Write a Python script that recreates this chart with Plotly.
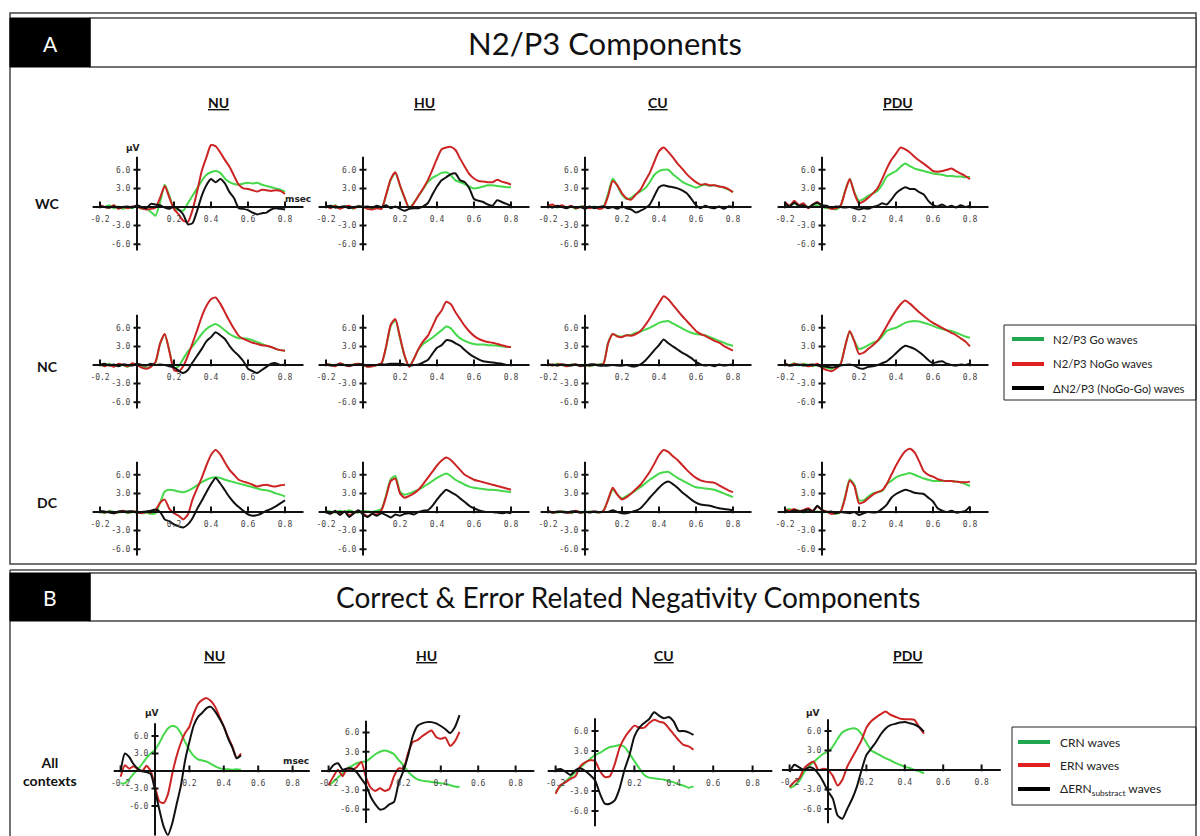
import plotly.graph_objects as go

W, H = 1200, 836

# ---------------- time axes (s) ----------------
T_A = [-0.2, -0.175, -0.15, -0.125, -0.1, -0.075, -0.05, -0.025, 0.0, 0.025, 0.05, 0.075, 0.1,
       0.125, 0.15, 0.175, 0.2, 0.225, 0.25, 0.275, 0.3, 0.325, 0.35, 0.375, 0.4, 0.425, 0.45,
       0.475, 0.5, 0.525, 0.55, 0.575, 0.6, 0.625, 0.65, 0.675, 0.7, 0.725, 0.75, 0.775, 0.8]
T_B = [-0.2, -0.175, -0.15, -0.125, -0.1, -0.075, -0.05, -0.025, 0.0, 0.025, 0.05, 0.075, 0.1,
       0.125, 0.15, 0.175, 0.2, 0.225, 0.25, 0.275, 0.3, 0.325, 0.35, 0.375, 0.4, 0.425, 0.45,
       0.475, 0.5]

groups = ["NU", "HU", "CU", "PDU"]
contexts = ["WC", "NC", "DC"]
x_ticks = [-0.2, 0.2, 0.4, 0.6, 0.8]
x_tick_labels = ["-0.2", "0.2", "0.4", "0.6", "0.8"]
y_ticks = [-6, -3, 3, 6]
y_tick_labels = ["-6.0", "-3.0", "3.0", "6.0"]

# ---------------- A: N2/P3 (µV) ----------------
nu_wc_go = [0.2,0.0,0.3,-0.2,0.1,-0.3,0.0,-0.2,0.2,-0.3,-0.2,-0.8,-1.4,0.8,3.6,1.8,-0.2,-0.5,-0.6,0.6,1.8,3.0,4.2,5.2,5.6,5.8,5.5,4.6,4.0,3.7,3.6,3.8,3.9,3.8,3.9,3.6,3.4,3.2,3.0,2.8,2.5]
nu_wc_nogo = [0.3,0.0,-0.1,0.3,-0.3,0.0,-0.2,0.1,0.0,-0.2,-0.4,-0.3,-0.1,1.5,3.4,1.5,-0.3,-1.2,-2.2,-2.4,-0.5,2.5,5.8,8.0,10.0,9.8,8.8,7.6,6.5,5.0,3.6,3.0,2.9,2.7,2.5,2.8,2.7,2.6,2.7,2.6,2.1]
nu_wc_diff = [0.1,0.0,-0.1,0.1,-0.1,0.0,0.1,-0.1,0.3,0.0,-0.2,0.5,0.4,0.3,-0.1,-0.3,0.1,-0.4,-1.2,-2.8,-2.6,-0.6,1.8,3.5,4.5,4.0,4.5,3.8,2.4,1.4,-0.2,-0.3,-0.5,-0.9,-1.2,-1.0,-0.9,-0.4,-0.2,-0.3,-0.4]

hu_wc_go = [0.2,-0.1,0.3,-0.2,0.1,0.1,-0.3,0.2,0.0,-0.2,-0.3,-0.1,-0.2,1.9,4.4,5.5,3.4,1.4,-0.1,0.7,1.8,2.9,4.0,4.7,5.1,5.5,5.6,5.1,4.3,4.0,3.7,3.3,3.0,3.1,3.3,3.5,3.5,3.4,3.3,3.2,3.2]
hu_wc_nogo = [0.3,-0.2,0.2,-0.3,0.0,0.2,-0.2,0.1,0.0,-0.3,-0.4,-0.2,-0.3,2.0,4.5,5.6,3.5,1.5,-0.2,0.6,1.8,3.0,4.3,6.0,7.8,9.3,9.6,9.7,9.2,7.8,6.5,5.3,4.6,4.2,4.1,4.0,4.0,4.4,4.1,3.9,3.6]
hu_wc_diff = [0.1,0.2,-0.1,0.0,0.1,-0.2,0.0,0.1,0.0,0.1,-0.1,0.2,0.0,0.3,-0.2,0.1,-0.3,-0.6,-0.3,-0.2,-0.2,0.1,0.6,2.0,3.3,4.3,4.8,5.3,5.4,4.3,4.0,3.0,1.3,1.0,0.8,0.4,0.2,1.1,0.8,0.5,0.2]

cu_wc_go = [0.1,0.3,-0.1,0.2,-0.2,0.1,-0.3,0.1,0.0,-0.1,0.1,-0.2,0.0,2.2,4.6,3.4,2.0,1.3,1.5,2.1,2.5,3.0,4.0,5.2,5.8,6.0,6.0,5.3,4.7,4.1,3.7,3.4,3.1,3.4,3.6,3.4,3.5,3.3,3.1,2.8,2.4]
cu_wc_nogo = [0.2,0.4,0.0,0.3,-0.1,0.2,-0.2,0.0,0.1,-0.2,0.0,-0.3,-0.1,1.8,4.2,3.5,2.2,1.4,1.2,2.0,2.8,4.2,5.5,7.3,9.0,9.6,8.9,8.0,7.0,6.2,5.3,4.6,4.0,3.6,3.7,3.5,3.5,3.3,3.2,2.9,2.4]
cu_wc_diff = [0.1,-0.1,0.2,0.0,-0.2,0.1,-0.1,0.0,-0.3,0.1,-0.2,0.0,0.1,-0.2,0.0,-0.3,0.1,-0.2,-0.4,-0.9,-0.6,-0.2,0.4,1.8,3.2,3.5,3.3,3.2,3.0,2.7,2.2,1.3,0.3,-0.2,0.2,-0.1,-0.2,0.1,-0.3,0.1,0.0]

pdu_wc_go = [0.5,0.3,0.6,0.2,0.4,0.0,0.2,0.3,0.0,-0.2,-0.2,-0.4,0.1,2.6,4.5,2.4,1.0,1.3,1.8,2.2,2.6,3.6,4.9,5.4,5.8,6.5,7.0,6.6,6.2,6.0,5.8,5.6,5.4,5.3,5.2,5.0,5.0,4.9,4.9,4.8,4.9]
pdu_wc_nogo = [0.8,0.2,1.0,0.3,0.6,-0.2,0.4,0.8,0.2,0.0,-0.3,-0.2,0.2,2.5,4.5,2.2,0.6,0.9,1.5,2.2,3.0,4.5,6.2,7.6,8.6,9.6,9.3,8.8,8.1,7.5,7.0,6.4,5.8,5.7,5.8,6.0,6.2,5.8,5.4,5.0,4.5]
pdu_wc_diff = [0.6,0.1,0.7,0.2,0.3,-0.1,0.4,0.7,0.3,0.2,-0.1,0.1,0.0,-0.1,0.0,-0.2,-0.4,-0.2,-0.3,0.0,0.2,0.6,0.4,1.2,2.2,2.8,3.2,2.9,2.9,2.4,2.0,1.0,0.3,0.1,0.4,0.0,0.2,-0.1,0.3,0.0,0.2]

nu_nc_go = [0.1,-0.2,0.2,-0.2,0.1,0.0,-0.3,0.2,0.0,-0.3,-0.5,-0.2,0.4,3.4,4.9,2.3,-0.5,-0.2,1.0,2.2,3.0,4.0,5.0,5.8,6.3,6.6,6.2,5.6,5.0,4.6,4.3,4.3,4.2,4.0,3.7,3.4,3.1,2.9,2.6,2.4,2.3]
nu_nc_nogo = [0.2,-0.2,0.1,-0.3,0.2,0.0,-0.2,0.3,0.0,-0.4,-0.6,-0.3,0.5,3.5,5.0,2.2,-0.8,-1.0,-0.2,1.5,3.5,5.6,7.8,9.5,10.6,10.9,9.9,8.5,7.1,5.8,4.7,4.2,3.9,3.6,3.4,3.2,3.1,2.9,2.6,2.4,2.3]
nu_nc_diff = [0.0,0.2,-0.1,0.1,-0.2,0.1,0.0,-0.1,0.2,0.0,-0.1,0.2,0.0,0.1,0.0,-0.2,-0.4,-0.9,-1.3,-0.8,0.4,1.5,2.6,3.8,4.5,5.3,4.8,4.2,3.1,2.2,1.5,0.6,-0.6,-1.0,-1.3,-0.8,-0.3,0.2,0.3,0.0,0.1]

hu_nc_go = [0.1,0.1,-0.2,0.2,0.0,-0.1,0.1,0.1,-0.1,-0.2,-0.2,0.0,0.2,2.9,6.3,7.2,4.3,1.4,-0.2,1.0,2.5,3.4,3.9,4.4,5.0,5.6,6.2,5.9,5.0,4.3,3.9,3.6,3.4,3.3,3.3,3.2,3.2,3.1,3.0,2.9,2.9]
hu_nc_nogo = [0.2,0.0,-0.2,0.3,0.0,-0.2,0.1,0.2,0.0,-0.3,-0.2,0.0,0.3,3.0,6.5,7.4,4.5,1.5,-0.3,1.0,2.6,3.8,4.7,6.2,7.8,8.8,10.2,9.8,8.5,7.4,6.3,5.4,4.7,4.2,3.9,3.7,3.6,3.4,3.2,3.0,2.9]
hu_nc_diff = [0.1,-0.1,0.0,0.1,0.0,-0.1,0.0,0.1,0.1,-0.1,0.0,0.0,0.1,0.1,0.2,0.2,0.2,0.1,-0.1,0.0,0.1,0.4,0.8,1.8,2.8,3.2,4.0,3.9,3.5,3.1,2.4,1.8,1.3,0.9,0.6,0.5,0.4,0.3,0.2,0.0,0.0]

cu_nc_go = [0.1,-0.1,0.2,0.0,-0.2,0.1,0.0,-0.1,0.1,-0.2,0.0,0.1,0.3,3.6,5.0,4.7,4.6,4.8,4.9,5.2,5.4,5.7,6.0,6.4,6.8,7.0,7.1,6.7,6.3,5.9,5.5,5.2,5.0,4.9,4.8,4.5,4.2,3.9,3.6,3.3,3.1]
cu_nc_nogo = [0.2,-0.1,0.1,0.1,-0.2,0.0,0.1,-0.2,0.0,-0.1,0.1,0.0,0.2,3.5,5.0,4.6,4.5,4.8,4.7,5.0,5.5,6.4,7.5,8.8,10.0,11.1,10.6,9.7,8.8,7.9,7.1,6.3,5.5,5.0,4.7,4.3,3.9,3.6,3.1,2.7,2.3]
cu_nc_diff = [0.0,0.1,-0.1,0.1,0.0,-0.1,0.1,-0.1,-0.1,0.1,0.1,-0.1,-0.1,-0.1,0.0,-0.1,-0.1,0.0,-0.2,-0.2,0.1,0.7,1.5,2.4,3.2,4.1,3.5,3.0,2.5,2.0,1.6,1.1,0.5,0.1,-0.1,0.0,-0.2,0.1,-0.1,0.0,0.1]

pdu_nc_go = [0.2,0.0,0.3,-0.1,0.2,0.0,-0.2,0.1,-0.3,-0.4,-0.6,-0.3,0.2,3.0,5.4,3.9,2.6,2.8,3.2,3.6,3.9,4.6,5.5,5.8,6.0,6.4,6.8,7.0,7.1,7.0,6.8,6.6,6.3,6.0,5.8,5.6,5.5,5.2,4.9,4.6,4.4]
pdu_nc_nogo = [0.3,-0.1,0.2,0.0,0.1,-0.2,-0.1,0.2,-0.5,-0.8,-1.0,-0.6,0.1,3.0,5.5,3.8,1.8,2.0,2.6,3.2,3.9,5.0,6.3,7.6,8.8,9.8,10.4,9.9,9.2,8.5,7.9,7.3,6.8,6.4,6.0,5.6,5.2,4.8,4.3,3.8,3.0]
pdu_nc_diff = [0.1,-0.1,0.0,0.1,-0.1,0.0,0.1,-0.1,-0.2,-0.3,-0.4,-0.3,-0.1,0.0,0.1,-0.1,-0.5,-0.6,-0.3,-0.2,0.0,0.3,0.6,1.2,1.9,2.6,3.1,2.9,2.6,2.1,1.5,0.8,0.3,0.5,0.6,0.2,0.0,-0.1,0.1,0.0,0.2]

nu_dc_go = [0.1,-0.2,0.2,0.0,-0.1,0.1,-0.2,0.0,0.1,-0.2,-0.1,-0.3,-0.2,1.5,3.3,3.6,3.5,3.3,3.2,3.4,3.8,4.3,4.8,5.2,5.5,5.6,5.5,5.2,5.0,4.8,4.6,4.4,4.2,4.0,3.8,3.6,3.5,3.3,3.0,2.8,2.5]
nu_dc_nogo = [0.2,-0.1,0.1,-0.2,0.0,0.2,-0.1,0.1,0.0,-0.2,0.0,-0.1,0.3,1.5,2.0,0.5,-0.2,-0.6,-1.2,-0.4,2.0,3.8,5.5,7.5,9.2,10.0,9.3,8.0,6.8,6.0,5.2,4.9,4.7,4.4,4.1,4.3,4.4,4.2,4.1,4.3,4.4]
nu_dc_diff = [0.1,0.1,-0.1,-0.2,0.1,0.1,0.1,0.1,-0.1,0.0,0.1,0.2,0.4,0.0,-1.2,-1.5,-2.0,-2.3,-2.5,-2.0,-1.0,0.5,1.8,3.2,4.5,5.5,4.6,3.5,2.4,1.5,0.8,0.2,-0.4,-0.6,-0.5,-0.2,0.2,0.5,0.9,1.4,1.9]

hu_dc_go = [0.2,0.1,-0.1,0.2,0.0,0.3,0.0,-0.1,0.2,0.1,0.0,0.2,0.5,2.7,5.3,5.8,3.3,2.8,3.0,3.3,3.6,4.0,4.5,5.0,5.5,5.9,6.2,5.8,5.2,4.8,4.4,4.1,3.9,3.8,3.7,3.6,3.6,3.5,3.4,3.3,3.2]
hu_dc_nogo = [0.2,-0.2,0.1,-0.3,0.1,-0.5,-0.2,0.2,-0.2,-0.7,-0.3,-0.4,0.3,2.5,5.0,5.4,3.0,2.3,2.6,3.0,3.6,4.5,5.5,6.5,7.5,8.3,8.8,8.4,7.6,6.8,6.0,5.6,5.2,5.0,4.8,4.6,4.4,4.2,4.0,3.8,3.6]
hu_dc_diff = [0.0,-0.3,0.2,-0.5,0.1,-0.8,-0.2,0.3,-0.4,-0.8,-0.3,-0.6,-0.2,-0.5,-0.9,-0.4,-0.6,-0.3,-0.2,-0.4,0.0,0.2,0.3,1.0,2.0,2.9,3.6,3.2,2.8,2.2,1.6,1.0,0.6,0.3,0.1,0.0,0.0,-0.1,-0.2,-0.1,-0.2]

cu_dc_go = [0.1,0.0,-0.1,0.1,0.0,-0.2,0.1,0.0,-0.1,0.1,0.0,-0.1,0.2,2.0,3.6,2.8,2.2,2.6,3.0,3.5,4.0,4.6,5.2,5.7,6.2,6.4,6.5,6.0,5.5,5.1,4.7,4.3,4.0,3.9,3.8,3.7,3.6,3.3,3.0,2.7,2.4]
cu_dc_nogo = [0.2,-0.1,0.0,0.1,-0.1,-0.1,0.2,-0.1,0.0,0.0,0.1,-0.1,0.2,2.0,3.9,2.8,2.0,2.4,3.0,3.7,4.4,5.4,6.5,7.8,9.2,10.0,9.7,9.0,8.4,7.6,6.8,6.1,5.5,5.1,4.9,4.8,4.7,4.3,3.9,3.5,3.2]
cu_dc_diff = [0.1,-0.1,0.1,0.0,-0.1,0.1,0.1,-0.1,0.1,-0.1,0.1,0.0,0.0,0.0,0.3,0.0,-0.2,-0.2,0.0,0.2,0.6,1.4,2.3,3.1,3.9,4.6,4.9,4.5,3.9,3.2,2.6,2.0,1.5,1.2,1.1,1.0,0.8,0.6,0.5,0.4,0.3]

pdu_dc_go = [0.3,0.5,0.1,0.3,-0.1,0.2,0.0,0.1,-0.1,0.0,-0.2,-0.3,0.0,2.5,5.3,4.4,1.9,1.9,2.5,3.0,3.2,3.4,4.5,5.0,5.6,5.9,6.1,6.3,6.0,5.7,5.4,5.2,5.0,5.0,5.0,5.0,5.0,4.9,4.8,4.5,4.2]
pdu_dc_nogo = [0.4,0.2,0.5,0.1,0.3,0.6,0.2,0.9,0.3,0.1,-0.3,-0.2,0.0,2.3,5.1,4.2,1.4,1.6,2.2,2.8,3.2,3.5,4.5,6.0,7.5,8.8,9.8,10.2,9.6,8.2,6.6,6.0,5.7,5.3,5.1,5.0,5.0,4.9,4.8,4.8,4.9]
pdu_dc_diff = [0.2,0.0,0.3,0.1,0.2,0.4,0.1,1.0,0.3,0.0,0.1,-0.2,0.0,-0.1,-0.2,0.0,-0.5,-0.2,0.0,-0.1,0.0,0.5,1.2,2.3,2.9,3.3,3.6,3.4,3.1,3.0,2.9,2.3,1.7,0.6,0.2,0.0,0.2,-0.1,0.0,0.2,0.9]

# ---------------- B: CRN / ERN (µV) ----------------
nu_crn = [-2.1,-2.1,-1.4,-0.5,0.3,1.2,2.2,3.0,3.6,4.8,6.2,7.3,7.7,7.5,6.5,5.0,3.6,2.6,2.0,1.8,1.6,1.2,0.8,0.5,0.3,0.3,0.2,0.3,0.2]
nu_ern = [-1.0,1.0,0.4,0.8,0.3,-0.1,0.9,0.0,-2.7,-5.2,-5.5,-4.0,-0.5,2.5,4.8,6.5,7.6,9.8,11.5,12.2,12.5,12.0,11.0,9.3,7.6,5.8,4.2,2.2,3.0]
nu_dern = [-0.1,3.0,2.4,1.2,0.4,0.0,-0.2,-0.5,-3.3,-6.6,-9.5,-11.0,-9.0,-5.8,-2.6,1.8,5.0,7.8,9.3,10.0,10.8,11.0,10.2,9.0,7.6,5.6,4.0,2.2,2.7]

hu_crn = [-2.2,-1.7,-1.0,-0.4,0.4,0.8,1.2,1.4,1.5,2.0,2.6,3.0,3.2,3.0,2.6,1.7,0.9,-0.1,-0.8,-1.3,-1.5,-1.6,-1.7,-1.8,-1.9,-2.0,-2.2,-2.4,-2.5]
hu_ern = [-2.2,-0.9,0.2,-0.8,0.4,0.2,0.6,1.4,-1.0,-2.6,-3.1,-2.7,-3.1,-2.8,-0.8,0.4,0.4,2.8,4.5,4.8,5.4,5.9,6.3,5.3,5.0,5.2,3.9,4.6,6.1]
hu_dern = [-0.1,0.9,1.2,0.2,0.4,0.4,-0.2,-1.2,-2.2,-4.0,-5.2,-6.0,-5.8,-5.2,-4.8,-1.8,0.0,2.4,5.4,7.0,7.4,7.6,7.6,7.4,7.0,6.5,5.9,6.8,8.7]

cu_crn = [-3.1,-2.3,-1.6,-0.9,-0.2,0.5,1.2,1.8,2.4,2.7,3.2,3.6,3.7,3.9,3.6,2.6,1.5,0.4,-0.6,-1.0,-1.1,-1.2,-1.3,-1.5,-1.7,-2.0,-2.2,-2.5,-2.3]
cu_ern = [-3.4,-2.1,-1.7,-1.2,-0.8,0.7,1.3,1.6,1.5,0.0,-0.9,-0.8,1.0,3.5,5.0,6.0,6.8,6.5,6.5,7.2,7.7,7.4,7.2,6.4,5.5,4.6,3.9,3.7,3.2]
cu_dern = [0.2,0.3,-0.1,-0.6,0.1,0.4,0.0,-0.6,-1.4,-3.4,-4.9,-4.9,-4.4,-2.6,0.2,2.4,5.2,6.5,7.2,7.8,8.8,8.3,7.9,8.1,7.4,6.0,6.0,5.8,5.4]

pdu_crn = [-2.8,-2.4,-1.7,-0.4,0.6,1.2,1.9,2.5,2.8,3.6,4.8,5.8,6.2,6.4,6.3,5.5,4.2,3.0,2.6,2.2,1.8,1.5,1.1,0.8,0.5,0.3,0.0,-0.2,-0.5]
pdu_ern = [-2.6,-1.8,-1.3,0.2,0.9,1.3,0.0,0.2,0.0,-0.9,-2.4,-1.5,0.5,1.9,3.2,4.6,6.5,7.5,8.1,8.6,9.0,8.5,8.2,7.9,7.8,7.8,7.7,6.6,5.6]
pdu_dern = [-0.3,0.8,0.4,0.0,0.4,0.2,-0.6,-1.8,-3.3,-4.4,-7.0,-7.5,-6.0,-4.5,-2.6,0.0,2.3,3.3,4.3,5.5,6.4,6.9,7.1,7.3,7.4,7.2,7.0,6.6,5.9]

A_series = {
    ("NU", "WC"): (nu_wc_go, nu_wc_nogo, nu_wc_diff),
    ("HU", "WC"): (hu_wc_go, hu_wc_nogo, hu_wc_diff),
    ("CU", "WC"): (cu_wc_go, cu_wc_nogo, cu_wc_diff),
    ("PDU", "WC"): (pdu_wc_go, pdu_wc_nogo, pdu_wc_diff),
    ("NU", "NC"): (nu_nc_go, nu_nc_nogo, nu_nc_diff),
    ("HU", "NC"): (hu_nc_go, hu_nc_nogo, hu_nc_diff),
    ("CU", "NC"): (cu_nc_go, cu_nc_nogo, cu_nc_diff),
    ("PDU", "NC"): (pdu_nc_go, pdu_nc_nogo, pdu_nc_diff),
    ("NU", "DC"): (nu_dc_go, nu_dc_nogo, nu_dc_diff),
    ("HU", "DC"): (hu_dc_go, hu_dc_nogo, hu_dc_diff),
    ("CU", "DC"): (cu_dc_go, cu_dc_nogo, cu_dc_diff),
    ("PDU", "DC"): (pdu_dc_go, pdu_dc_nogo, pdu_dc_diff),
}
B_series = {
    "NU": (nu_crn, nu_ern, nu_dern),
    "HU": (hu_crn, hu_ern, hu_dern),
    "CU": (cu_crn, cu_ern, cu_dern),
    "PDU": (pdu_crn, pdu_ern, pdu_dern),
}

# ---------------- geometry (pixels) ----------------
A_col_x0 = {"NU": 137, "HU": 363, "CU": 585, "PDU": 822}
A_row_y0 = {"WC": 207, "NC": 365, "DC": 512}
A_sx, A_sy = 185.0, 6.2
B_geom = {  # x0, y0, sx, sy, yrange, yline
    "NU": (155, 771, 172.0, 5.83, [-11.1, 13.5], [-11.1, 8.2]),
    "HU": (366, 771, 187.0, 6.43, [-9.0, 10.0], [-8.1, 7.8]),
    "CU": (595, 771, 197.0, 6.67, [-9.0, 10.0], [-8.3, 7.9]),
    "PDU": (828, 770, 192.0, 6.5, [-9.0, 10.0], [-8.2, 7.8]),
}

GREEN = "#45d84a"
RED = "#cc2424"
BLACK = "#111111"
TICKFONT = dict(family="DejaVu Sans Mono", size=8, color="#444444")

fig = go.Figure()
layout_axes = {}


def X(px):
    return px / W


def Y(py):
    return 1 - py / H


def add_panel(idx, t, series, x0, y0, sx, sy, xr, yr, xline, yline):
    xa = "x" if idx == 1 else f"x{idx}"
    ya = "y" if idx == 1 else f"y{idx}"
    dom_x = [max(0, (x0 + xr[0] * sx) / W), min(1, (x0 + xr[1] * sx) / W)]
    dom_y = [max(0, 1 - (y0 - yr[0] * sy) / H), min(1, 1 - (y0 - yr[1] * sy) / H)]
    key = "" if idx == 1 else str(idx)
    layout_axes["xaxis" + key] = dict(
        domain=dom_x, range=xr, anchor="free", position=Y(y0),
        showgrid=False, zeroline=False, showline=False,
        ticks="outside", ticklen=4, tickcolor="rgba(0,0,0,0)",
        tickvals=x_ticks, ticktext=x_tick_labels, tickfont=TICKFONT,
        fixedrange=True)
    layout_axes["yaxis" + key] = dict(
        domain=dom_y, range=yr, anchor="free", position=X(x0),
        showgrid=False, zeroline=False, showline=False,
        ticks="outside", ticklen=5, tickcolor="rgba(0,0,0,0)",
        tickvals=y_ticks, ticktext=y_tick_labels, tickfont=TICKFONT,
        fixedrange=True)
    # axis lines + tick marks (data coordinates)
    ax_x, ax_y = [xline[0], xline[1], None, 0, 0, None], [0, 0, None, yline[0], yline[1], None]
    for tv in x_ticks:
        ax_x += [tv, tv, None]
        ax_y += [-1.2 / sy, 5.5 / sy, None]
    for tv in y_ticks:
        ax_x += [-3.5 / sx, 3.5 / sx, None]
        ax_y += [tv, tv, None]
    for vals, col in zip(series, [GREEN, RED, BLACK]):
        fig.add_trace(go.Scatter(x=t, y=vals, xaxis=xa, yaxis=ya, mode="lines",
                                 line=dict(color=col, width=2, shape="spline", smoothing=0.6),
                                 showlegend=False, hoverinfo="skip"))
    fig.add_trace(go.Scatter(x=ax_x, y=ax_y, xaxis=xa, yaxis=ya, mode="lines",
                             line=dict(color="#111111", width=2), showlegend=False,
                             hoverinfo="skip"))


idx = 1
for ctx in contexts:
    for g in groups:
        add_panel(idx, T_A, A_series[(g, ctx)], A_col_x0[g], A_row_y0[ctx], A_sx, A_sy,
                  [-0.26, 0.93], [-8.0, 11.5], [-0.24, 0.9], [-7.0, 8.1])
        idx += 1
for g in groups:
    x0, y0, sx, sy, yr, yl = B_geom[g]
    add_panel(idx, T_B, B_series[g], x0, y0, sx, sy, [-0.26, 0.93], yr, [-0.24, 0.9], yl)
    idx += 1

# ---------------- frames, headers ----------------
shapes = []
FR = "#444444"
shapes.append(dict(type="rect", xref="paper", yref="paper", x0=X(10), x1=X(1196), y0=Y(564), y1=Y(13),
                   line=dict(color=FR, width=1.5)))
shapes.append(dict(type="line", xref="paper", yref="paper", x0=X(10), x1=X(1196), y0=Y(570), y1=Y(570),
                   line=dict(color=FR, width=1.5)))
shapes.append(dict(type="line", xref="paper", yref="paper", x0=X(10), x1=X(10), y0=Y(570), y1=0,
                   line=dict(color=FR, width=1.5)))
shapes.append(dict(type="line", xref="paper", yref="paper", x0=X(1196), x1=X(1196), y0=Y(570), y1=0,
                   line=dict(color=FR, width=1.5)))
for top, bot in [(18, 67), (573, 621)]:
    shapes.append(dict(type="rect", xref="paper", yref="paper", x0=X(90), x1=X(1196), y0=Y(bot), y1=Y(top),
                       line=dict(color=FR, width=1.5), fillcolor="white"))
    shapes.append(dict(type="rect", xref="paper", yref="paper", x0=X(10), x1=X(90), y0=Y(bot), y1=Y(top),
                       line=dict(color="black", width=1), fillcolor="black"))

# legends
legA = [("N2/P3 Go waves", "#1fa84f"), ("N2/P3 NoGo waves", "#e02020"), ("ΔN2/P3 (NoGo-Go) waves", "#000000")]
legB = [("CRN waves", "#1fa84f"), ("ERN waves", "#e02020"), ("ΔERN<sub>substract</sub> waves", "#000000")]
annotations = []
for (bx0, by0, bx1, by1, lx0, lx1, tx, ys, items, fs) in [
        (1004, 325, 1196, 400, 1012, 1044, 1051, [339, 364, 388], legA, 11.3),
        (1012, 727, 1196, 805, 1018, 1050, 1058, [742, 765, 789], legB, 12)]:
    shapes.append(dict(type="rect", xref="paper", yref="paper", x0=X(bx0), x1=X(bx1), y0=Y(by1), y1=Y(by0),
                       line=dict(color="#222222", width=1)))
    for (label, col), yy in zip(items, ys):
        shapes.append(dict(type="line", xref="paper", yref="paper", x0=X(lx0), x1=X(lx1), y0=Y(yy), y1=Y(yy),
                           line=dict(color=col, width=4)))
        annotations.append(dict(text=label, x=X(tx), y=Y(yy), xref="paper", yref="paper", showarrow=False,
                                xanchor="left", yanchor="middle",
                                font=dict(family="Lato", size=fs, color="#222222")))

TF = "Lato"
annotations += [
    dict(text="A", x=X(50), y=Y(43), font=dict(family=TF, size=21, color="white")),
    dict(text="B", x=X(50), y=Y(597), font=dict(family=TF, size=21, color="white")),
    dict(text="N2/P3 Components", x=X(605), y=Y(43), font=dict(family=TF, size=31, color="#111111")),
    dict(text="Correct & Error Related Negativity Components", x=X(628), y=Y(597),
         font=dict(family=TF, size=28, color="#111111")),
]
for g, cx in zip(groups, [218, 424, 658, 898]):
    annotations.append(dict(text=f"<b><u>{g}</u></b>", x=X(cx), y=Y(102),
                            font=dict(family=TF, size=14, color="#111111")))
for g, cx in zip(groups, [214, 426, 664, 908]):
    annotations.append(dict(text=f"<b><u>{g}</u></b>", x=X(cx), y=Y(655),
                            font=dict(family=TF, size=14, color="#111111")))
for lab, cy in [("WC", 203), ("NC", 366), ("DC", 502)]:
    annotations.append(dict(text=f"<b>{lab}</b>", x=X(47), y=Y(cy),
                            font=dict(family=TF, size=14, color="#111111")))
annotations.append(dict(text="<b>All<br>contexts</b>", x=X(50), y=Y(771),
                        font=dict(family=TF, size=14, color="#111111")))
for txt, px, py in [("µV", 133, 148), ("msec", 298, 199), ("µV", 152, 713), ("msec", 296, 761),
                    ("µV", 813, 713)]:
    annotations.append(dict(text=f"<b>{txt}</b>", x=X(px), y=Y(py),
                            font=dict(family="DejaVu Sans", size=9, color="#222222")))

for a in annotations:
    a.setdefault("xref", "paper")
    a.setdefault("yref", "paper")
    a.setdefault("showarrow", False)
    a.setdefault("xanchor", "center")
    a.setdefault("yanchor", "middle")

fig.update_layout(width=W, height=H, margin=dict(l=0, r=0, t=0, b=0),
                  paper_bgcolor="white", plot_bgcolor="rgba(0,0,0,0)",
                  showlegend=False, shapes=shapes, annotations=annotations,
                  hovermode=False, **layout_axes)

fig.write_html("out.html", config={"displayModeBar": False})

# remove the default page margin so the figure sits at the window's top-left corner
with open("out.html", "r", encoding="utf-8") as f:
    html = f.read()
html = html.replace("<head>", "<head><style>html,body{margin:0;padding:0;overflow:hidden;}</style>", 1)
with open("out.html", "w", encoding="utf-8") as f:
    f.write(html)
